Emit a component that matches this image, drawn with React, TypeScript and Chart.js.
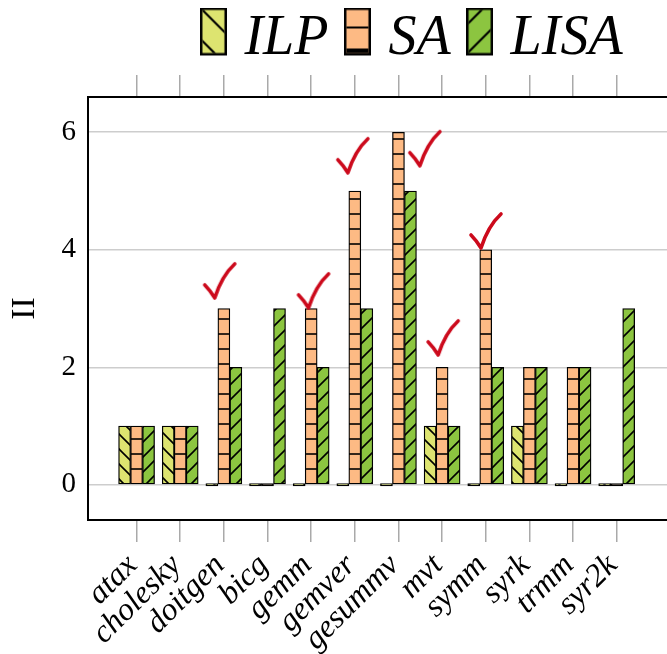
import React, { useEffect, useRef } from 'react';
import { Chart, registerables } from 'chart.js';

Chart.register(...registerables);

// ---------- data ----------
const categories = ['atax', 'cholesky', 'doitgen', 'bicg', 'gemm', 'gemver', 'gesummv', 'mvt', 'symm', 'syrk', 'trmm', 'syr2k'];
const seriesNames = ['ILP', 'SA', 'LISA'];
const ilpValues = [1, 1, 0, 0, 0, 0, 0, 1, 0, 1, 0, 0];
const saValues = [1, 1, 3, 0, 3, 5, 6, 2, 4, 2, 2, 0];
const lisaValues = [1, 1, 2, 3, 2, 3, 5, 1, 2, 2, 2, 3];
const yTickValues = [0, 2, 4, 6];
// check marks (position of the tick's vertex, in axis units)
const checkX = [1.79, 3.94, 4.84, 6.49, 6.91, 7.89];
const checkY = [3.18, 3.01, 5.31, 5.43, 2.21, 4.03];

const Y_MIN = -0.6;
const Y_MAX = 6.6;
const X_MIN = -1.113;
const X_MAX = 15.704;

const ILP_COLOR = '#dde470';
const SA_COLOR = '#fdba84';
const LISA_COLOR = '#8cc540';

const CANVAS_W = 833;
const CANVAS_H = 654;

function makePattern(ctx: CanvasRenderingContext2D, bg: string, kind: string) {
  const s = 15;
  const c = document.createElement('canvas');
  c.width = s;
  c.height = s;
  const g = c.getContext('2d')!;
  g.fillStyle = bg;
  g.fillRect(0, 0, s, s);
  g.strokeStyle = '#000';
  g.lineWidth = 1.6;
  g.beginPath();
  if (kind === 'h') {
    g.moveTo(0, 4);
    g.lineTo(s, 4);
  } else if (kind === 'back') {
    g.moveTo(-2, -2); g.lineTo(s + 2, s + 2);
    g.moveTo(-2, s - 2); g.lineTo(2, s + 2);
    g.moveTo(s - 2, -2); g.lineTo(s + 2, 2);
  } else {
    g.moveTo(-2, s + 2); g.lineTo(s + 2, -2);
    g.moveTo(-2, 2); g.lineTo(2, -2);
    g.moveTo(s - 2, s + 2); g.lineTo(s + 2, s - 2);
  }
  g.stroke();
  return ctx.createPattern(c, 'repeat')!;
}

function makeLegendImage(bg: string, kind: string) {
  const w = 27;
  const h = 48;
  const c = document.createElement('canvas');
  c.width = w;
  c.height = h + 16; // transparent strip below lifts the box relative to the text
  const g = c.getContext('2d')!;
  g.fillStyle = '#000';
  g.fillRect(0, 0, w, h);
  g.fillStyle = bg;
  g.fillRect(2.5, 2.5, w - 5, h - 5);
  g.save();
  g.beginPath();
  g.rect(2.5, 2.5, w - 5, h - 5);
  g.clip();
  g.strokeStyle = '#000';
  g.lineWidth = 2.2;
  g.beginPath();
  if (kind === 'h') {
    g.moveTo(0, 20); g.lineTo(w, 20);
    g.stroke();
    g.fillStyle = '#000';
    g.fillRect(0, 41, w, 7);
  } else if (kind === 'back') {
    g.moveTo(0, 0); g.lineTo(30, 30);
    g.moveTo(0, 31); g.lineTo(30, 61);
    g.stroke();
  } else {
    g.moveTo(0, 18); g.lineTo(30, -12);
    g.moveTo(0, 47); g.lineTo(30, 17);
    g.stroke();
  }
  g.restore();
  return c;
}

function makeCheckImage() {
  const c = document.createElement('canvas');
  c.width = 80;
  c.height = 80;
  const g = c.getContext('2d')!;
  g.translate(40, 40);
  g.strokeStyle = '#cc0a1c';
  g.lineWidth = 3.6;
  g.lineCap = 'round';
  g.lineJoin = 'round';
  g.beginPath();
  g.moveTo(-10, -13);
  g.quadraticCurveTo(-5, -8, 0, 0);
  g.quadraticCurveTo(7, -22, 20, -34);
  g.stroke();
  return c;
}

export default function App() {
  const canvasRef = useRef<HTMLCanvasElement | null>(null);

  useEffect(() => {
    const canvas = canvasRef.current;
    if (!canvas) return;
    const ctx = canvas.getContext('2d')!;

    const ilpPat = makePattern(ctx, ILP_COLOR, 'back');
    const saPat = makePattern(ctx, SA_COLOR, 'h');
    const lisaPat = makePattern(ctx, LISA_COLOR, 'fwd');
    const legendImgs = [
      makeLegendImage(ILP_COLOR, 'back'),
      makeLegendImage(SA_COLOR, 'h'),
      makeLegendImage(LISA_COLOR, 'fwd'),
    ];
    const checkImg = makeCheckImage();

    const barCommon: any = {
      borderColor: '#000',
      borderWidth: 1.3,
      borderSkipped: false,
      barThickness: 12,
      minBarLength: 2.4,
      xAxisID: 'x',
      yAxisID: 'y',
    };

    const serif = 'Liberation Serif';
    const tickIdx = (s: any) => {
      s.ticks = categories.map((_, i) => ({ value: i }));
    };
    const xGrid = { offset: false, drawOnChartArea: false, drawTicks: true, tickLength: 22, color: '#a9a9a9', lineWidth: 1.5 };

    const chart = new Chart(ctx, {
      type: 'bar',
      data: {
        datasets: [
          { ...barCommon, label: seriesNames[0], data: categories.map((_, i) => ({ x: i, y: ilpValues[i] })), backgroundColor: ilpPat },
          { ...barCommon, label: seriesNames[1], data: categories.map((_, i) => ({ x: i, y: saValues[i] })), backgroundColor: saPat },
          { ...barCommon, label: seriesNames[2], data: categories.map((_, i) => ({ x: i, y: lisaValues[i] })), backgroundColor: lisaPat },
          {
            type: 'line',
            label: 'check',
            data: checkX.map((x, i) => ({ x, y: checkY[i] })),
            showLine: false,
            pointStyle: checkImg,
            pointRadius: 10,
            xAxisID: 'x',
            yAxisID: 'y',
            order: -1,
          } as any,
        ],
      },
      options: {
        responsive: false,
        animation: false,
        devicePixelRatio: 1,
        layout: { padding: { top: -14.5, left: 0, right: 0, bottom: 0 } },
        plugins: {
          tooltip: { enabled: false },
          legend: {
            display: true,
            position: 'top',
            align: 'center',
            labels: {
              usePointStyle: true,
              pointStyleWidth: 6,
              padding: 26,
              color: '#000',
              font: { family: serif, size: 56, style: 'italic' },
              generateLabels: () =>
                seriesNames.map((name, i) => ({
                  text: name,
                  fillStyle: '#fff',
                  strokeStyle: '#000',
                  lineWidth: 0,
                  pointStyle: legendImgs[i] as any,
                  hidden: false,
                  datasetIndex: i,
                })) as any,
            },
          },
        },
        scales: {
          x: {
            type: 'linear',
            position: 'bottom',
            min: X_MIN,
            max: X_MAX,
            offset: false,
            afterBuildTicks: tickIdx,
            afterFit: (s: any) => { s.height = 134; },
            ticks: {
              autoSkip: false,
              maxRotation: 45,
              minRotation: 45,
              padding: 5,
              labelOffset: -4,
              color: '#000',
              font: { family: serif, size: 32, style: 'italic' },
              callback: (v: any) => categories[v] ?? '',
            },
            grid: xGrid,
            border: { display: true, color: '#000', width: 2 },
          },
          xTop: {
            type: 'linear',
            position: 'top',
            min: X_MIN,
            max: X_MAX,
            offset: false,
            afterBuildTicks: tickIdx,
            afterFit: (s: any) => { s.height = 19.5; },
            ticks: { display: false },
            grid: xGrid,
            border: { display: true, color: '#000', width: 2 },
          },
          y: {
            type: 'linear',
            min: Y_MIN,
            max: Y_MAX,
            afterBuildTicks: (s: any) => { s.ticks = yTickValues.map((v) => ({ value: v })); },
            afterFit: (s: any) => { s.width = 88; },
            ticks: { padding: 12, color: '#000', font: { family: serif, size: 29 } },
            grid: { color: '#cdcdcd', lineWidth: 1.5, drawTicks: false },
            border: { display: true, color: '#000', width: 2 },
            title: {
              display: true,
              text: 'II',
              color: '#000',
              font: { family: serif, size: 34, lineHeight: 1 },
              padding: { top: 8, bottom: 0 },
            },
          },
        },
      } as any,
    });

    return () => chart.destroy();
  }, []);

  return (
    <div style={{ position: 'fixed', left: 0, top: 0, width: 667, height: 654, overflow: 'hidden', background: '#fff' }}>
      <canvas ref={canvasRef} width={CANVAS_W} height={CANVAS_H} style={{ display: 'block', width: CANVAS_W, height: CANVAS_H }} />
    </div>
  );
}
